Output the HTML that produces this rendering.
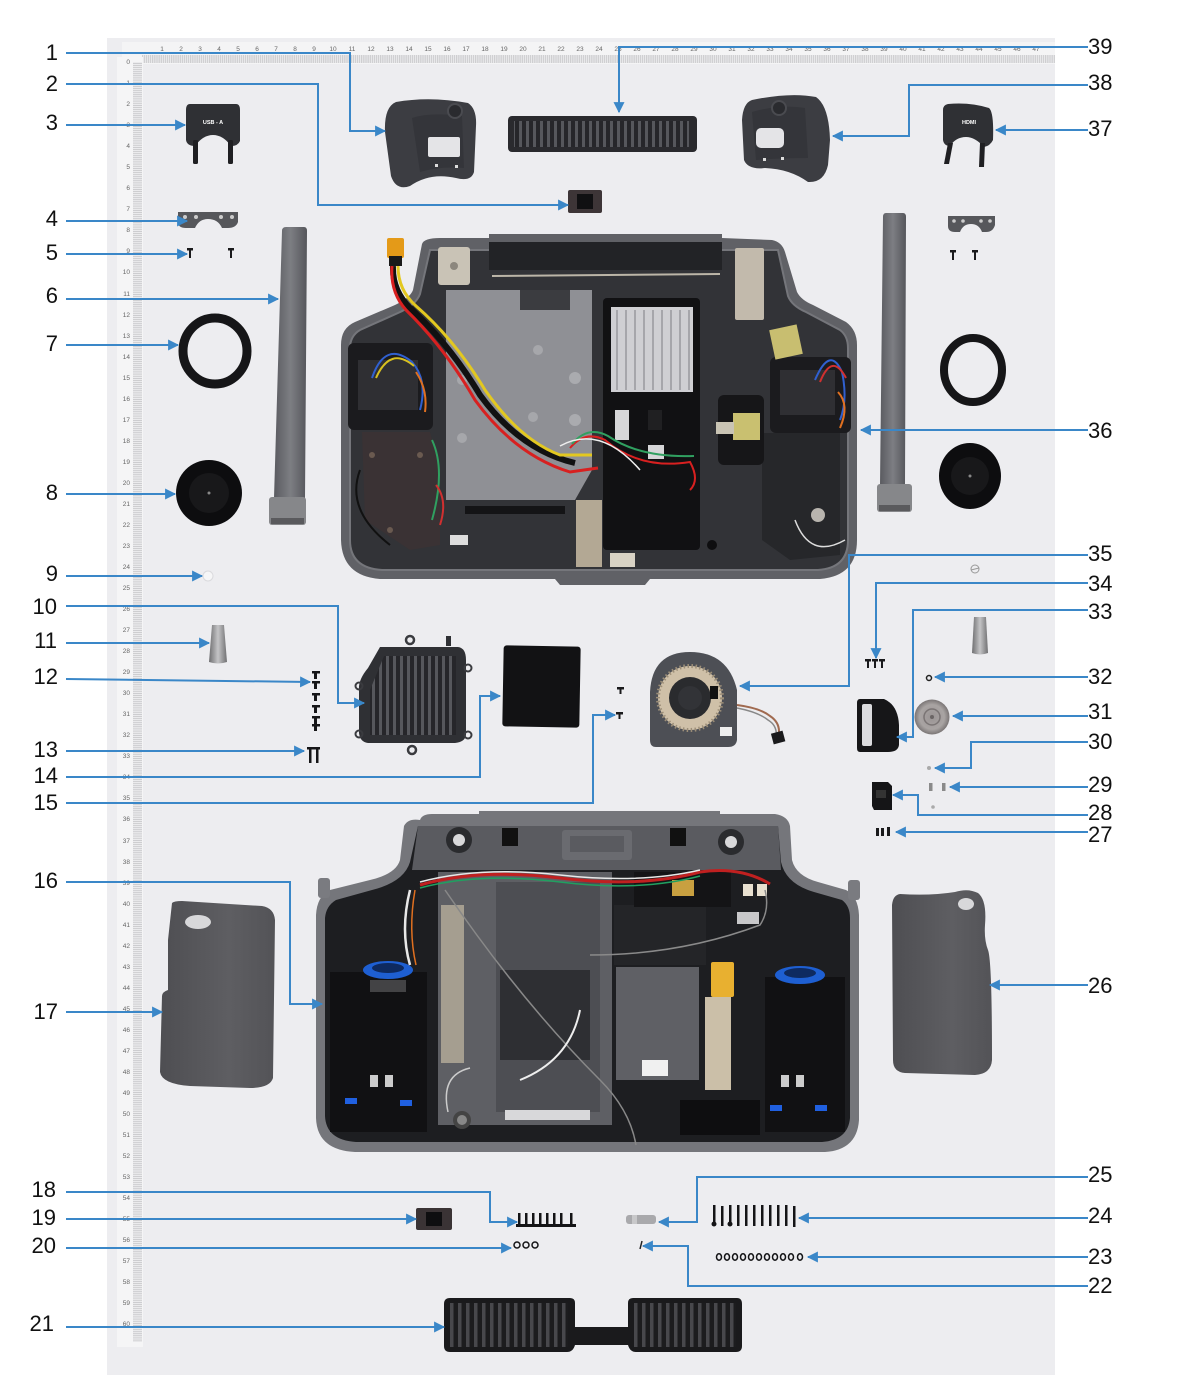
<!DOCTYPE html>
<html><head><meta charset="utf-8"><style>
html,body{margin:0;padding:0;background:#fff;}
svg{display:block;}
.lb{font-family:"Liberation Sans",sans-serif;font-size:22px;fill:#111;}
.rn{font-family:"Liberation Sans",sans-serif;font-size:6.5px;fill:#666;}
.cl{fill:none;stroke:#3a87c8;stroke-width:2;marker-end:url(#ar);}
</style></head><body>
<svg width="1178" height="1396" viewBox="0 0 1178 1396" xmlns="http://www.w3.org/2000/svg">
<defs>
<marker id="ar" viewBox="0 0 10 10" refX="9" refY="5" markerWidth="13" markerHeight="11" markerUnits="userSpaceOnUse" orient="auto"><path d="M0,0 L10,5 L0,10 z" fill="#3a87c8"/></marker>
<pattern id="vs" width="7" height="10" patternUnits="userSpaceOnUse"><rect width="7" height="10" fill="#26262a"/><rect x="1" width="3" height="10" fill="#56575c"/></pattern>
<pattern id="vs2" width="8" height="10" patternUnits="userSpaceOnUse"><rect width="8" height="10" fill="#1c1c1e"/><rect x="2" width="3.5" height="10" fill="#48484c"/></pattern>
<pattern id="tk" width="1.9" height="10" patternUnits="userSpaceOnUse"><rect width="1.9" height="10" fill="#e9e9eb"/><rect width="0.5" height="10" fill="#b5b5b8"/></pattern>
<pattern id="tkv" width="10" height="2.1" patternUnits="userSpaceOnUse"><rect width="10" height="2.1" fill="#ebebed"/><rect width="10" height="0.5" fill="#b3b3b6"/></pattern>
<linearGradient id="rod" x1="0" x2="1"><stop offset="0" stop-color="#5a5b60"/><stop offset="0.5" stop-color="#7d7e83"/><stop offset="1" stop-color="#55565b"/></linearGradient>
<linearGradient id="knob" x1="0" x2="1"><stop offset="0" stop-color="#6e6e70"/><stop offset="0.5" stop-color="#c4c4c6"/><stop offset="1" stop-color="#707072"/></linearGradient>
<radialGradient id="wheel"><stop offset="0" stop-color="#9a9494"/><stop offset="0.7" stop-color="#a9a4a3"/><stop offset="1" stop-color="#7a7575"/></radialGradient>
<linearGradient id="grip" x1="0" x2="1"><stop offset="0" stop-color="#4e4e52"/><stop offset="0.6" stop-color="#5e5e62"/><stop offset="1" stop-color="#535357"/></linearGradient>
</defs>

<!-- photo background -->
<rect x="107" y="38" width="948" height="1337" fill="#ededf0"/>

<!-- top ruler -->
<rect x="122" y="42" width="933" height="22" fill="#f4f4f5"/>
<rect x="142" y="55" width="913" height="8" fill="url(#tk)"/>
<g class="rn" text-anchor="middle">
<text x="162" y="51">1</text><text x="181" y="51">2</text><text x="200" y="51">3</text><text x="219" y="51">4</text><text x="238" y="51">5</text><text x="257" y="51">6</text><text x="276" y="51">7</text><text x="295" y="51">8</text><text x="314" y="51">9</text><text x="333" y="51">10</text><text x="352" y="51">11</text><text x="371" y="51">12</text><text x="390" y="51">13</text><text x="409" y="51">14</text><text x="428" y="51">15</text><text x="447" y="51">16</text><text x="466" y="51">17</text><text x="485" y="51">18</text><text x="504" y="51">19</text><text x="523" y="51">20</text><text x="542" y="51">21</text><text x="561" y="51">22</text><text x="580" y="51">23</text><text x="599" y="51">24</text><text x="618" y="51">25</text><text x="637" y="51">26</text><text x="656" y="51">27</text><text x="675" y="51">28</text><text x="694" y="51">29</text><text x="713" y="51">30</text><text x="732" y="51">31</text><text x="751" y="51">32</text><text x="770" y="51">33</text><text x="789" y="51">34</text><text x="808" y="51">35</text><text x="827" y="51">36</text><text x="846" y="51">37</text><text x="865" y="51">38</text><text x="884" y="51">39</text><text x="903" y="51">40</text><text x="922" y="51">41</text><text x="941" y="51">42</text><text x="960" y="51">43</text><text x="979" y="51">44</text><text x="998" y="51">45</text><text x="1017" y="51">46</text><text x="1036" y="51">47</text>
</g>
<!-- vertical ruler -->
<rect x="117" y="57" width="26" height="1290" fill="#f5f5f6"/>
<rect x="133" y="62" width="9" height="1280" fill="url(#tkv)"/>
<g class="rn" text-anchor="end">
<text x="130" y="64">0</text><text x="130" y="85">1</text><text x="130" y="106">2</text><text x="130" y="127">3</text><text x="130" y="148">4</text><text x="130" y="169">5</text><text x="130" y="190">6</text><text x="130" y="211">7</text><text x="130" y="232">8</text><text x="130" y="253">9</text><text x="130" y="274">10</text><text x="130" y="296">11</text><text x="130" y="317">12</text><text x="130" y="338">13</text><text x="130" y="359">14</text><text x="130" y="380">15</text><text x="130" y="401">16</text><text x="130" y="422">17</text><text x="130" y="443">18</text><text x="130" y="464">19</text><text x="130" y="485">20</text><text x="130" y="506">21</text><text x="130" y="527">22</text><text x="130" y="548">23</text><text x="130" y="569">24</text><text x="130" y="590">25</text><text x="130" y="611">26</text><text x="130" y="632">27</text><text x="130" y="653">28</text><text x="130" y="674">29</text><text x="130" y="695">30</text><text x="130" y="716">31</text><text x="130" y="737">32</text><text x="130" y="758">33</text><text x="130" y="779">34</text><text x="130" y="800">35</text><text x="130" y="821">36</text><text x="130" y="843">37</text><text x="130" y="864">38</text><text x="130" y="885">39</text><text x="130" y="906">40</text><text x="130" y="927">41</text><text x="130" y="948">42</text><text x="130" y="969">43</text><text x="130" y="990">44</text><text x="130" y="1011">45</text><text x="130" y="1032">46</text><text x="130" y="1053">47</text><text x="130" y="1074">48</text><text x="130" y="1095">49</text><text x="130" y="1116">50</text><text x="130" y="1137">51</text><text x="130" y="1158">52</text><text x="130" y="1179">53</text><text x="130" y="1200">54</text><text x="130" y="1221">55</text><text x="130" y="1242">56</text><text x="130" y="1263">57</text><text x="130" y="1284">58</text><text x="130" y="1305">59</text><text x="130" y="1326">60</text>
</g>

<!-- ========== TOP ROW PARTS ========== -->
<path d="M190,104 H236 Q240,104 240,110 V141 Q238,146 231,146 Q223,135 213,135 Q203,135 195,146 Q187,146 186,140 V110 Q186,104 190,104 Z" fill="#2f3034"/>
<rect x="193" y="140" width="5" height="24" rx="1.5" fill="#1f1f22"/><rect x="228" y="140" width="5" height="24" rx="1.5" fill="#1f1f22"/>
<text x="213" y="124" font-family="Liberation Sans,sans-serif" font-size="5.5" font-weight="bold" fill="#fff" text-anchor="middle">USB - A</text>
<path d="M948,104 Q970,102 989,108 Q994,112 993,140 Q990,146 984,147 Q975,137 966,137 Q956,137 950,146 Q944,146 943,140 V110 Q943,105 948,104 Z" fill="#2f3034"/>
<path d="M948,143 L953,143 L949,164 L944,164 Z" fill="#1f1f22"/><path d="M980,143 L985,143 L984,167 L979,167 Z" fill="#1f1f22"/>
<text x="969" y="124" font-family="Liberation Sans,sans-serif" font-size="5.5" font-weight="bold" fill="#fff" text-anchor="middle">HDMI</text>
<path d="M396,102 Q430,96 468,103 Q477,109 476,126 L474,172 Q471,182 456,178 Q430,172 410,186 Q396,191 391,176 L385,132 Q384,107 396,102 Z" fill="#3c3d42"/>
<path d="M412,118 Q430,112 462,116 L464,168 Q440,166 420,172 Z" fill="#34353a"/>
<rect x="428" y="137" width="32" height="20" rx="2" fill="#e4e4e7"/>
<circle cx="455" cy="111" r="7" fill="#2a2b2f" stroke="#4a4b50" stroke-width="2"/>
<rect x="435" y="164" width="3" height="3" fill="#ddd"/><rect x="455" y="165" width="3" height="3" fill="#ddd"/>
<path d="M752,100 Q790,92 816,97 Q829,106 830,140 L828,165 Q824,183 808,182 Q790,169 765,168 Q748,170 744,160 L742,120 Q743,103 752,100 Z" fill="#3c3d42"/>
<path d="M752,112 Q780,104 805,108 L808,158 Q780,158 756,160 Z" fill="#34353a"/>
<rect x="756" y="128" width="28" height="20" rx="5" fill="#e4e4e7"/>
<circle cx="779" cy="108" r="7" fill="#2a2b2f" stroke="#4a4b50" stroke-width="2"/>
<rect x="763" y="158" width="3" height="3" fill="#ddd"/><rect x="781" y="157" width="3" height="3" fill="#ddd"/>
<rect x="508" y="116" width="189" height="36" rx="4" fill="#2a2a2e"/>
<rect x="514" y="121" width="175" height="26" fill="url(#vs)"/>
<rect x="568" y="190" width="34" height="23" rx="2" fill="#3d3537"/><rect x="577" y="194" width="16" height="15" fill="#101012"/>
<path d="M178,212 H238 V222 Q236,228 228,228 H222 Q218,219 208,219 Q199,219 195,228 H186 Q178,228 178,222 Z" fill="#56575b"/>
<circle cx="185" cy="217" r="2" fill="#ccc"/><circle cx="196" cy="217" r="2" fill="#ccc"/><circle cx="221" cy="217" r="2" fill="#ccc"/><circle cx="232" cy="217" r="2" fill="#ccc"/>
<path d="M948,216 H995 V225 Q993,232 986,232 H982 Q979,224 971,224 Q963,224 960,232 H955 Q948,232 948,226 Z" fill="#56575b"/>
<circle cx="954" cy="221" r="1.8" fill="#ccc"/><circle cx="963" cy="221" r="1.8" fill="#ccc"/><circle cx="981" cy="221" r="1.8" fill="#ccc"/><circle cx="990" cy="221" r="1.8" fill="#ccc"/>
<g fill="#1a1a1c"><rect x="187" y="248" width="6" height="2.5"/><rect x="189" y="250" width="2" height="8"/><rect x="228" y="248" width="6" height="2.5"/><rect x="230" y="250" width="2" height="8"/>
<rect x="950" y="250" width="6" height="2.5"/><rect x="952" y="252" width="2" height="8"/><rect x="972" y="250" width="6" height="2.5"/><rect x="974" y="252" width="2" height="8"/></g>
<path d="M286,227 H304 Q307,227 307,231 L305,498 H274 L282,231 Q282,227 286,227 Z" fill="url(#rod)"/>
<rect x="269" y="497" width="37" height="28" rx="3" fill="#86878a"/><rect x="271" y="518" width="33" height="6" fill="#5a5a5d"/>
<path d="M886,213 H903 Q906,213 906,217 L905,485 H880 L883,217 Q883,213 886,213 Z" fill="url(#rod)"/>
<rect x="877" y="484" width="35" height="28" rx="3" fill="#86878a"/><rect x="879" y="505" width="31" height="6" fill="#5a5a5d"/>
<ellipse cx="215" cy="351" rx="32" ry="33" fill="none" stroke="#161618" stroke-width="9"/>
<ellipse cx="973" cy="370" rx="29" ry="32" fill="none" stroke="#161618" stroke-width="8"/>
<circle cx="209" cy="493" r="33" fill="#0d0d0f"/><circle cx="209" cy="493" r="20" fill="#18181a"/><circle cx="209" cy="493" r="1.5" fill="#888"/>
<ellipse cx="970" cy="476" rx="31" ry="33" fill="#0d0d0f"/><circle cx="970" cy="476" r="19" fill="#18181a"/><circle cx="970" cy="476" r="1.5" fill="#888"/>
<circle cx="208" cy="576" r="5" fill="#f6f6f7" stroke="#dadadd"/>
<circle cx="975" cy="569" r="4" fill="none" stroke="#999" stroke-width="1"/><line x1="971" y1="570" x2="979" y2="568" stroke="#999"/>

<!-- ========== TOP CONTROLLER (36) ========== -->
<path d="M422,244 Q424,238 440,238 H489 V234 H722 V238 L772,240 Q782,242 785,252 L797,292 Q801,300 813,305 L846,322 Q857,330 857,345 V540 Q857,576 820,579 H650 L645,585 H560 L555,579 H380 Q342,576 341,540 V345 Q341,328 355,322 L395,305 Q410,298 413,290 Z" fill="#606166"/>
<path d="M430,250 H778 L788,296 Q792,306 806,312 L840,330 Q848,336 848,348 V540 Q848,568 818,570 H382 Q350,568 350,540 V348 Q350,336 360,330 L398,313 Q416,305 420,294 Z" fill="#323337"/>
<path d="M430,250 H778 L788,296 Q792,306 806,312 L840,330 Q848,336 848,348 V540 Q848,568 818,570 H382 Q350,568 350,540 V348 Q350,336 360,330 L398,313 Q416,305 420,294 Z" fill="none" stroke="#75767b" stroke-width="2"/>
<rect x="489" y="242" width="233" height="28" fill="#222326"/>
<line x1="492" y1="276" x2="720" y2="274" stroke="#bcb6a8" stroke-width="2"/>
<rect x="438" y="247" width="32" height="38" rx="3" fill="#c9c3b6"/><circle cx="454" cy="266" r="4" fill="#8c877e"/>
<rect x="735" y="248" width="29" height="72" rx="2" fill="#c2baac"/>
<path d="M446,290 H592 V470 L575,500 H446 Z" fill="#8f9095"/>
<circle cx="538" cy="350" r="5" fill="#a6a7ab"/><circle cx="575" cy="378" r="6" fill="#aaabaf"/><circle cx="533" cy="417" r="5" fill="#a6a7ab"/><circle cx="575" cy="420" r="6" fill="#aaabaf"/><circle cx="462" cy="380" r="5" fill="#a6a7ab"/><circle cx="462" cy="438" r="5" fill="#a6a7ab"/>
<rect x="520" y="290" width="50" height="20" fill="#3b3c40"/>
<rect x="603" y="298" width="97" height="252" rx="4" fill="#111113"/>
<rect x="611" y="307" width="82" height="85" fill="#cfcfd3"/>
<g fill="#a6a6ab"><rect x="616" y="310" width="2" height="80"/><rect x="625" y="310" width="2" height="80"/><rect x="634" y="310" width="2" height="80"/><rect x="643" y="310" width="2" height="80"/><rect x="652" y="310" width="2" height="80"/><rect x="661" y="310" width="2" height="80"/><rect x="670" y="310" width="2" height="80"/><rect x="679" y="310" width="2" height="80"/><rect x="688" y="310" width="2" height="80"/></g>
<rect x="615" y="410" width="14" height="30" fill="#d6d6d8"/><rect x="648" y="410" width="14" height="20" fill="#202022"/><rect x="648" y="445" width="16" height="14" fill="#d6d6d8"/>
<rect x="576" y="500" width="26" height="67" fill="#b3a894"/><rect x="610" y="553" width="25" height="14" fill="#d8d2c4"/>
<rect x="348" y="343" width="85" height="87" rx="6" fill="#1b1b1e"/>
<rect x="358" y="360" width="60" height="50" fill="#2f2f33"/>
<path d="M372,378 Q385,340 412,362 Q428,380 420,410" fill="none" stroke="#3060d0" stroke-width="2"/>
<path d="M376,378 Q390,346 414,366" fill="none" stroke="#d8c020" stroke-width="2"/>
<path d="M416,372 Q428,390 425,412" fill="none" stroke="#e07020" stroke-width="2"/>
<path d="M362,432 H430 L440,470 L440,545 L410,550 L365,520 Z" fill="#3a3234"/>
<circle cx="372" cy="455" r="3" fill="#6a5a50"/><circle cx="420" cy="455" r="3" fill="#6a5a50"/><circle cx="390" cy="530" r="3" fill="#6a5a50"/>
<path d="M432,440 Q446,470 432,520" fill="none" stroke="#30a060" stroke-width="2"/>
<path d="M436,485 Q448,500 440,525" fill="none" stroke="#d03030" stroke-width="2"/>
<path d="M360,470 Q345,510 390,545" fill="none" stroke="#111" stroke-width="2"/>
<rect x="770" y="357" width="81" height="76" rx="6" fill="#1b1b1e"/>
<rect x="780" y="370" width="55" height="45" fill="#2f2f33"/>
<path d="M815,380 Q830,345 842,372 Q848,400 840,420" fill="none" stroke="#3060d0" stroke-width="2"/>
<path d="M820,382 Q832,352 846,378" fill="none" stroke="#d03030" stroke-width="2"/>
<path d="M838,392 Q850,405 840,428" fill="none" stroke="#e07020" stroke-width="2"/>
<path d="M762,433 H840 V555 L790,560 L762,540 Z" fill="#26272a"/>
<circle cx="818" cy="515" r="7" fill="#b8b4ae"/>
<rect x="772" y="327" width="28" height="30" fill="#c8be70" transform="rotate(-12 786 342)"/>
<rect x="718" y="395" width="46" height="70" rx="6" fill="#161618"/>
<rect x="733" y="413" width="27" height="27" fill="#c9c070"/><rect x="716" y="422" width="18" height="12" fill="#c9c4b4"/>
<path d="M795,520 Q810,560 845,540" fill="none" stroke="#ddd" stroke-width="1.5"/>
<rect x="387" y="238" width="17" height="20" rx="2" fill="#e49a18"/>
<rect x="389" y="256" width="13" height="10" fill="#1a1a1a"/>
<path d="M393,266 Q392,290 410,308 Q450,345 480,395 Q520,450 575,463" fill="none" stroke="#111" stroke-width="6"/>
<path d="M398,266 Q398,290 416,306 Q455,340 485,390 Q520,440 560,455 L592,455" fill="none" stroke="#e3c820" stroke-width="3"/>
<path d="M392,266 Q390,292 406,310 Q445,348 475,400 Q515,455 570,472 L598,468" fill="none" stroke="#d82020" stroke-width="3"/>
<path d="M570,448 Q585,430 605,440 Q640,470 690,462 Q700,480 690,490" fill="none" stroke="#d82020" stroke-width="2"/>
<path d="M572,444 Q588,425 608,436 Q640,458 694,456" fill="none" stroke="#30a060" stroke-width="2"/>
<path d="M560,446 Q600,424 640,470" fill="none" stroke="#eee" stroke-width="1.5"/>
<rect x="465" y="506" width="100" height="8" fill="#141416"/><rect x="450" y="535" width="18" height="10" fill="#ddd"/>
<circle cx="712" cy="545" r="5" fill="#0e0e10"/>

<!-- ========== MID ROW ========== -->
<path d="M212,625 H224 L227,662 Q218,665 209,662 Z" fill="url(#knob)"/>
<path d="M974,617 H986 L988,653 Q980,656 972,653 Z" fill="url(#knob)"/>
<g fill="#161618"><rect x="312" y="671" width="8" height="2.5"/><rect x="314" y="673" width="3" height="6"/><rect x="312" y="681" width="8" height="2.5"/><rect x="314" y="683" width="3" height="6"/><rect x="312" y="693" width="8" height="2.5"/><rect x="314" y="695" width="3" height="6"/><rect x="312" y="705" width="8" height="2.5"/><rect x="314" y="707" width="3" height="6"/><rect x="312" y="716" width="8" height="2.5"/><rect x="314" y="718" width="3" height="6"/><rect x="312" y="724" width="8" height="2.5"/><rect x="314" y="726" width="3" height="5"/>
<rect x="307" y="747" width="13" height="2.5"/><rect x="309" y="749" width="2.5" height="14"/><rect x="316" y="749" width="2.5" height="14"/></g>
<path d="M380,647 H458 Q466,648 466,660 V735 Q465,742 455,743 H368 Q360,742 359,733 V690 Q358,680 368,668 Z" fill="#2f3034"/>
<circle cx="410" cy="640" r="4" fill="none" stroke="#3a3b3f" stroke-width="2.5"/><rect x="446" y="636" width="5" height="10" fill="#2f3034"/>
<circle cx="359" cy="686" r="3.5" fill="none" stroke="#3a3b3f" stroke-width="2"/><circle cx="359" cy="734" r="3.5" fill="none" stroke="#3a3b3f" stroke-width="2"/>
<circle cx="468" cy="735" r="3.5" fill="none" stroke="#3a3b3f" stroke-width="2"/><circle cx="468" cy="668" r="3.5" fill="none" stroke="#3a3b3f" stroke-width="2"/>
<circle cx="412" cy="750" r="4" fill="none" stroke="#3a3b3f" stroke-width="2.5"/>
<path d="M384,656 H456 V735 H370 V690 Z" fill="url(#vs)"/>
<rect x="503" y="646" width="77" height="81" rx="3" fill="#121214" transform="rotate(1 541 686)"/>
<g fill="#1a1a1c"><rect x="617" y="687" width="7" height="2.5"/><rect x="619.5" y="689" width="2" height="5"/><rect x="616" y="712" width="7" height="2.5"/><rect x="618.5" y="714" width="2" height="5"/></g>
<path d="M690,652 Q728,652 737,690 L737,740 Q736,747 728,747 H656 Q650,747 650,740 V692 Q652,652 690,652 Z" fill="#4d4f55"/>
<circle cx="690" cy="698" r="32" fill="#cfc0a8"/>
<circle cx="690" cy="698" r="32" fill="none" stroke="#9c8e78" stroke-width="4" stroke-dasharray="1.5 2.5"/>
<circle cx="690" cy="698" r="21" fill="#2a2b2e"/><circle cx="690" cy="698" r="12" fill="#323337"/>
<rect x="710" y="686" width="8" height="13" fill="#111"/>
<rect x="720" y="727" width="12" height="9" fill="#eee"/>
<path d="M737,705 Q760,708 770,716 Q782,724 778,738" fill="none" stroke="#a06a50" stroke-width="2"/>
<path d="M737,708 Q758,712 768,720 Q778,726 776,738" fill="none" stroke="#888" stroke-width="1.5"/>
<rect x="772" y="732" width="12" height="11" fill="#1a1a1c" transform="rotate(-15 778 737)"/>
<g fill="#1a1a1c"><rect x="865" y="659" width="6" height="2.5"/><rect x="867" y="661" width="2" height="7"/><rect x="872" y="659" width="6" height="2.5"/><rect x="874" y="661" width="2" height="7"/><rect x="879" y="659" width="6" height="2.5"/><rect x="881" y="661" width="2" height="7"/></g>
<path d="M860,699 H884 Q898,705 899,725 V745 Q898,752 888,752 H860 Q857,752 857,748 V703 Q857,699 860,699 Z" fill="#161618"/>
<rect x="862" y="704" width="10" height="42" rx="2" fill="#dcdcdf"/>
<circle cx="932" cy="717" r="17.5" fill="url(#wheel)"/><circle cx="932" cy="717" r="8" fill="none" stroke="#7a7474" stroke-width="1.5"/><circle cx="932" cy="717" r="2" fill="#6a6464"/>
<circle cx="929" cy="678" r="2.5" fill="none" stroke="#222" stroke-width="1.5"/>
<circle cx="929" cy="768" r="2" fill="#aaa"/>
<rect x="929" y="783" width="3.5" height="8" fill="#8a8a8a"/><rect x="942" y="783" width="3.5" height="8" fill="#8a8a8a"/>
<circle cx="933" cy="807" r="1.8" fill="#aaa"/>
<path d="M872,782 H888 L892,786 V810 H874 L872,806 Z" fill="#151517"/><rect x="876" y="790" width="10" height="8" fill="#333"/>
<g fill="#1a1a1c"><rect x="876" y="828" width="3" height="8"/><rect x="881" y="828" width="3" height="8"/><rect x="887" y="827" width="3" height="9"/></g>

<!-- ========== BOTTOM CONTROLLER (16) ========== -->
<path d="M420,820 Q422,814 432,814 H479 V811 H720 V814 H775 Q788,816 790,826 L792,860 Q796,876 818,882 L846,890 Q858,896 859,915 V1120 Q857,1150 825,1152 H355 Q317,1150 316,1118 V915 Q317,896 330,890 L370,880 Q396,874 400,860 L404,826 Q408,818 420,820 Z" fill="#75767b"/>
<path d="M418,826 H778 L781,862 Q786,884 814,892 L842,900 Q850,906 850,918 V1118 Q848,1140 822,1142 H356 Q326,1140 325,1116 V918 Q326,906 336,900 L372,890 Q404,882 410,862 Z" fill="#1d1e21"/>
<path d="M418,826 H778 L781,870 H412 Z" fill="#5a5b60"/>
<circle cx="459" cy="840" r="13" fill="#2a2b2e"/><circle cx="459" cy="840" r="6" fill="#d8d8da"/>
<circle cx="731" cy="842" r="13" fill="#2a2b2e"/><circle cx="731" cy="842" r="6" fill="#d8d8da"/>
<rect x="502" y="828" width="16" height="18" fill="#111"/><rect x="670" y="828" width="16" height="18" fill="#111"/>
<rect x="562" y="830" width="70" height="30" rx="3" fill="#6a6b70"/><rect x="570" y="836" width="54" height="16" fill="#5a5b60"/>
<rect x="438" y="872" width="174" height="253" fill="#5e5f64"/>
<rect x="496" y="882" width="104" height="230" fill="#4d4e53"/>
<rect x="500" y="970" width="90" height="90" fill="#2e2f33"/>
<rect x="505" y="1110" width="85" height="10" fill="#d8d8da"/>
<rect x="441" y="905" width="23" height="158" fill="#a59e90"/>
<rect x="614" y="905" width="92" height="60" fill="#242528"/>
<rect x="616" y="967" width="83" height="113" fill="#5f6065"/>
<rect x="642" y="1060" width="26" height="16" fill="#f0f0f0"/>
<rect x="634" y="872" width="97" height="35" fill="#141416"/>
<rect x="672" y="880" width="22" height="16" fill="#c8a040"/>
<rect x="743" y="884" width="10" height="12" fill="#e8e0d0"/><rect x="757" y="884" width="10" height="12" fill="#e8e0d0"/>
<rect x="737" y="912" width="22" height="12" fill="#c8c8ca"/>
<rect x="711" y="962" width="23" height="35" rx="2" fill="#e8b030"/>
<rect x="705" y="997" width="26" height="93" fill="#cbbfa8"/>
<rect x="330" y="972" width="97" height="160" fill="#111113"/>
<ellipse cx="388" cy="970" rx="25" ry="9" fill="#1e5fd2"/><ellipse cx="388" cy="968" rx="16" ry="5" fill="#0e2a60"/>
<rect x="370" y="980" width="36" height="12" fill="#ddd" opacity="0.25"/>
<rect x="370" y="1075" width="8" height="12" fill="#ccc"/><rect x="385" y="1075" width="8" height="12" fill="#ccc"/>
<rect x="765" y="977" width="80" height="155" fill="#111113"/>
<ellipse cx="800" cy="975" rx="25" ry="9" fill="#1e5fd2"/><ellipse cx="800" cy="973" rx="16" ry="5" fill="#0e2a60"/>
<rect x="781" y="1075" width="8" height="12" fill="#ccc"/><rect x="796" y="1075" width="8" height="12" fill="#ccc"/>
<rect x="345" y="1098" width="12" height="6" fill="#2060e0"/><rect x="400" y="1100" width="12" height="6" fill="#2060e0"/><rect x="770" y="1105" width="12" height="6" fill="#2060e0"/><rect x="815" y="1105" width="12" height="6" fill="#2060e0"/>
<rect x="680" y="1100" width="80" height="35" fill="#0e0e10"/>
<circle cx="462" cy="1120" r="9" fill="#444"/><circle cx="462" cy="1120" r="5" fill="#888"/>
<path d="M420,885 Q480,868 560,878 Q640,888 700,872 Q740,866 770,884" fill="none" stroke="#c02020" stroke-width="3"/>
<path d="M420,888 Q480,872 560,882 Q640,892 700,876" fill="none" stroke="#20a060" stroke-width="1.5"/>
<path d="M420,882 Q480,866 560,875 Q640,884 700,870" fill="none" stroke="#e8e8e8" stroke-width="1.5"/>
<path d="M410,890 Q400,930 410,965" fill="none" stroke="#e8e8e8" stroke-width="2.5"/>
<path d="M415,890 Q408,930 416,965" fill="none" stroke="#e07020" stroke-width="1.5"/>
<path d="M445,890 Q520,1000 600,1080 Q630,1110 636,1145" fill="none" stroke="#888" stroke-width="1.5"/>
<path d="M580,1010 Q570,1060 520,1080" fill="none" stroke="#eee" stroke-width="2"/>
<path d="M448,1112 Q440,1075 470,1068" fill="none" stroke="#ccc" stroke-width="1.5"/>
<path d="M590,955 Q680,955 760,925 Q770,910 765,890" fill="none" stroke="#8a8a8a" stroke-width="1.5"/>
<rect x="318" y="878" width="12" height="20" rx="3" fill="#7a7b80"/><rect x="848" y="880" width="12" height="20" rx="3" fill="#7a7b80"/>
<path d="M172,903 Q174,901 182,901 L262,906 Q274,908 275,920 L273,1078 Q270,1088 250,1088 L190,1086 Q162,1084 160,1072 L162,996 Q162,992 168,990 L168,940 Z" fill="url(#grip)"/>
<ellipse cx="198" cy="922" rx="13" ry="7" fill="#d8d8da"/>
<path d="M900,894 Q930,896 955,892 Q968,888 978,893 Q987,900 985,925 Q984,940 988,950 Q992,960 992,1060 Q991,1074 975,1075 L905,1073 Q893,1072 893,1060 L892,905 Q893,895 900,894 Z" fill="url(#grip)"/>
<ellipse cx="966" cy="904" rx="8" ry="6" fill="#d8d8da"/>

<!-- ========== BOTTOM SMALL PARTS ========== -->
<rect x="416" y="1208" width="36" height="22" rx="2" fill="#3a3335"/><rect x="426" y="1212" width="16" height="14" fill="#0e0e10"/>
<g fill="#141416"><rect x="518" y="1213" width="2.5" height="14"/><rect x="525" y="1213" width="2.5" height="14"/><rect x="532" y="1213" width="2.5" height="14"/><rect x="539" y="1213" width="2.5" height="14"/><rect x="546" y="1213" width="2.5" height="14"/><rect x="553" y="1213" width="2.5" height="14"/><rect x="560" y="1213" width="2.5" height="14"/><rect x="570" y="1213" width="2.5" height="14"/>
<rect x="516" y="1224" width="60" height="3"/></g>
<g fill="none" stroke="#141416" stroke-width="1.5"><circle cx="517" cy="1245" r="3"/><circle cx="526" cy="1245" r="3"/><circle cx="535" cy="1245" r="3"/></g>
<rect x="626" y="1215" width="30" height="9" rx="3" fill="#a9a9ac"/><rect x="632" y="1215" width="5" height="9" fill="#c8c8ca"/>
<line x1="640" y1="1249" x2="642" y2="1241" stroke="#222" stroke-width="1.5"/>
<g fill="#141416"><rect x="713" y="1205" width="2.5" height="20"/><rect x="721" y="1206" width="2.5" height="20"/><rect x="729" y="1205" width="2.5" height="21"/><rect x="737" y="1205" width="2.5" height="21"/><rect x="745" y="1205" width="2.5" height="21"/><rect x="753" y="1205" width="2.5" height="21"/><rect x="761" y="1205" width="2.5" height="21"/><rect x="769" y="1205" width="2.5" height="21"/><rect x="777" y="1205" width="2.5" height="21"/><rect x="785" y="1205" width="2.5" height="21"/><rect x="793" y="1206" width="2.5" height="21"/>
<circle cx="714" cy="1224" r="2.5"/><circle cx="730" cy="1224" r="2.5"/></g>
<g fill="none" stroke="#141416" stroke-width="1.5"><ellipse cx="719" cy="1257" rx="2.5" ry="3.2"/><ellipse cx="727" cy="1257" rx="2.5" ry="3.2"/><ellipse cx="735" cy="1257" rx="2.5" ry="3.2"/><ellipse cx="743" cy="1257" rx="2.5" ry="3.2"/><ellipse cx="751" cy="1257" rx="2.5" ry="3.2"/><ellipse cx="759" cy="1257" rx="2.5" ry="3.2"/><ellipse cx="767" cy="1257" rx="2.5" ry="3.2"/><ellipse cx="775" cy="1257" rx="2.5" ry="3.2"/><ellipse cx="783" cy="1257" rx="2.5" ry="3.2"/><ellipse cx="791" cy="1257" rx="2.5" ry="3.2"/><ellipse cx="800" cy="1257" rx="2.5" ry="3.2"/></g>
<path d="M450,1298 H570 Q575,1298 575,1303 V1327 H628 V1303 Q628,1298 633,1298 H737 Q742,1298 742,1304 V1346 Q742,1352 736,1352 H636 Q630,1352 628,1345 H575 Q573,1352 567,1352 H450 Q444,1352 444,1346 V1304 Q444,1298 450,1298 Z" fill="#1a1a1c"/>
<rect x="450" y="1303" width="118" height="44" fill="url(#vs2)"/>
<rect x="634" y="1303" width="102" height="44" fill="url(#vs2)"/>

<!-- ========== CALLOUT LINES ========== -->
<path class="cl" d="M66,53 H350 V131 H385"/>
<path class="cl" d="M66,84 H318 V205 H568"/>
<path class="cl" d="M66,125 H185"/>
<path class="cl" d="M66,221 H187"/>
<path class="cl" d="M66,254 H187"/>
<path class="cl" d="M66,299 H278"/>
<path class="cl" d="M66,345 H178"/>
<path class="cl" d="M66,494 H175"/>
<path class="cl" d="M66,576 H202"/>
<path class="cl" d="M66,606 H338 V703 H364"/>
<path class="cl" d="M66,643 H209"/>
<path class="cl" d="M66,679 L310,682"/>
<path class="cl" d="M66,751 H304"/>
<path class="cl" d="M66,777 H480 V696 H500"/>
<path class="cl" d="M66,803 H593 V715 H615"/>
<path class="cl" d="M66,882 H290 V1004 H322"/>
<path class="cl" d="M66,1012 H162"/>
<path class="cl" d="M66,1192 H490 V1222 H517"/>
<path class="cl" d="M66,1219 H416"/>
<path class="cl" d="M66,1248 H511"/>
<path class="cl" d="M66,1327 H444"/>
<path class="cl" d="M1088,47 H619 V112"/>
<path class="cl" d="M1088,85 H909 V136 H833"/>
<path class="cl" d="M1088,130 H996"/>
<path class="cl" d="M1088,430 H861"/>
<path class="cl" d="M1088,555 H849 V686 H740"/>
<path class="cl" d="M1088,583 H876 V658"/>
<path class="cl" d="M1088,610 H913 V737 H897"/>
<path class="cl" d="M1088,677 H935"/>
<path class="cl" d="M1088,716 H953"/>
<path class="cl" d="M1088,742 H971 V768 H935"/>
<path class="cl" d="M1088,787 H950"/>
<path class="cl" d="M1088,815 H918 V795 H893"/>
<path class="cl" d="M1088,832 H896"/>
<path class="cl" d="M1088,985 H990"/>
<path class="cl" d="M1088,1177 H697 V1222 H659"/>
<path class="cl" d="M1088,1218 H799"/>
<path class="cl" d="M1088,1257 H808"/>
<path class="cl" d="M1088,1286 H688 V1246 H643"/>

<!-- ========== LABELS ========== -->
<g class="lb" text-anchor="end">
<text x="58" y="60">1</text>
<text x="58" y="91">2</text>
<text x="58" y="130">3</text>
<text x="58" y="226">4</text>
<text x="58" y="260">5</text>
<text x="58" y="303">6</text>
<text x="58" y="351">7</text>
<text x="58" y="500">8</text>
<text x="58" y="581">9</text>
<text x="57" y="614">10</text>
<text x="57" y="648">11</text>
<text x="58" y="684">12</text>
<text x="58" y="757">13</text>
<text x="58" y="783">14</text>
<text x="58" y="810">15</text>
<text x="58" y="888">16</text>
<text x="58" y="1019">17</text>
<text x="56" y="1197">18</text>
<text x="56" y="1225">19</text>
<text x="56" y="1253">20</text>
<text x="54" y="1331">21</text>
</g>
<g class="lb">
<text x="1088" y="54">39</text>
<text x="1088" y="90">38</text>
<text x="1088" y="136">37</text>
<text x="1088" y="438">36</text>
<text x="1088" y="561">35</text>
<text x="1088" y="591">34</text>
<text x="1088" y="619">33</text>
<text x="1088" y="684">32</text>
<text x="1088" y="719">31</text>
<text x="1088" y="749">30</text>
<text x="1088" y="792">29</text>
<text x="1088" y="820">28</text>
<text x="1088" y="842">27</text>
<text x="1088" y="993">26</text>
<text x="1088" y="1182">25</text>
<text x="1088" y="1223">24</text>
<text x="1088" y="1264">23</text>
<text x="1088" y="1293">22</text>
</g>
</svg>
</body></html>
